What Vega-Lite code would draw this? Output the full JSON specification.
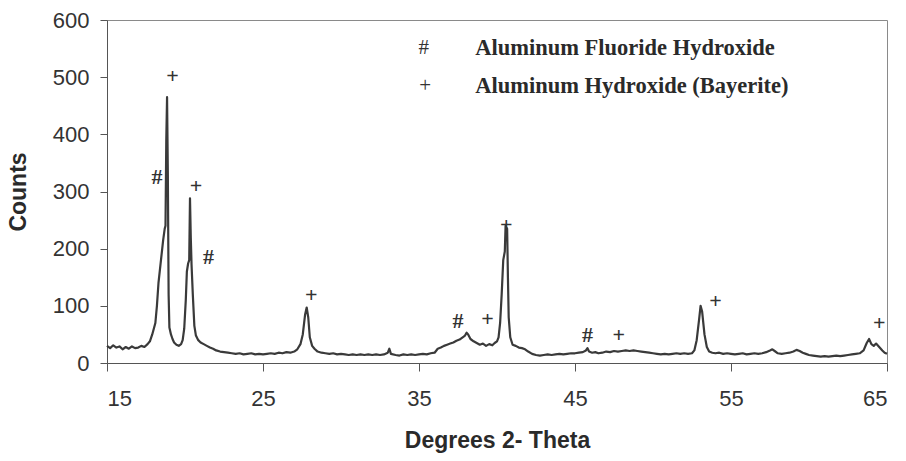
{
  "$schema": "https://vega.github.io/schema/vega-lite/v6.json",
  "autosize": "none",
  "width": 780,
  "height": 343,
  "padding": {"left": 107, "top": 20, "right": 19, "bottom": 98},
  "background": "white",
  "config": {
    "view": {"stroke": "#8a8a8a", "strokeWidth": 1},
    "axis": {
      "labelFont": "Liberation Sans", "labelFontSize": 22, "labelColor": "#333333",
      "titleFont": "Liberation Sans", "titleFontSize": 23, "titleFontWeight": "bold", "titleColor": "#2a2a2a",
      "domainColor": "#555555", "tickColor": "#555555", "grid": false
    }
  },
  "datasets": {
    "xrd": [
      {"theta": 15.0, "counts": 30}, {"theta": 15.2, "counts": 26}, {"theta": 15.4, "counts": 31}, {"theta": 15.6, "counts": 27},
      {"theta": 15.8, "counts": 29}, {"theta": 16.0, "counts": 24}, {"theta": 16.2, "counts": 28}, {"theta": 16.4, "counts": 25},
      {"theta": 16.6, "counts": 29}, {"theta": 16.8, "counts": 26}, {"theta": 17.0, "counts": 27}, {"theta": 17.2, "counts": 30},
      {"theta": 17.4, "counts": 28}, {"theta": 17.6, "counts": 33}, {"theta": 17.75, "counts": 38}, {"theta": 17.9, "counts": 50},
      {"theta": 18.0, "counts": 60}, {"theta": 18.1, "counts": 70}, {"theta": 18.2, "counts": 100}, {"theta": 18.3, "counts": 140},
      {"theta": 18.4, "counts": 165}, {"theta": 18.5, "counts": 190}, {"theta": 18.6, "counts": 215}, {"theta": 18.7, "counts": 235},
      {"theta": 18.75, "counts": 240}, {"theta": 18.8, "counts": 390}, {"theta": 18.85, "counts": 465}, {"theta": 18.9, "counts": 330},
      {"theta": 18.95, "counts": 120}, {"theta": 19.0, "counts": 62}, {"theta": 19.1, "counts": 50}, {"theta": 19.2, "counts": 42},
      {"theta": 19.3, "counts": 36}, {"theta": 19.45, "counts": 32}, {"theta": 19.6, "counts": 30}, {"theta": 19.75, "counts": 33},
      {"theta": 19.85, "counts": 40}, {"theta": 19.95, "counts": 60}, {"theta": 20.05, "counts": 110}, {"theta": 20.12, "counts": 160},
      {"theta": 20.2, "counts": 174}, {"theta": 20.27, "counts": 180}, {"theta": 20.32, "counts": 288}, {"theta": 20.37, "counts": 220},
      {"theta": 20.42, "counts": 172}, {"theta": 20.5, "counts": 120}, {"theta": 20.6, "counts": 65}, {"theta": 20.7, "counts": 48},
      {"theta": 20.85, "counts": 40}, {"theta": 21.0, "counts": 36}, {"theta": 21.2, "counts": 33}, {"theta": 21.4, "counts": 30},
      {"theta": 21.6, "counts": 27}, {"theta": 21.8, "counts": 25}, {"theta": 22.0, "counts": 22}, {"theta": 22.25, "counts": 20},
      {"theta": 22.5, "counts": 19}, {"theta": 22.75, "counts": 18}, {"theta": 23.0, "counts": 17}, {"theta": 23.25, "counts": 16},
      {"theta": 23.5, "counts": 17}, {"theta": 23.75, "counts": 15}, {"theta": 24.0, "counts": 16}, {"theta": 24.25, "counts": 17},
      {"theta": 24.5, "counts": 15}, {"theta": 24.75, "counts": 16}, {"theta": 25.0, "counts": 15}, {"theta": 25.25, "counts": 16},
      {"theta": 25.5, "counts": 17}, {"theta": 25.75, "counts": 16}, {"theta": 26.0, "counts": 18}, {"theta": 26.25, "counts": 17},
      {"theta": 26.5, "counts": 19}, {"theta": 26.75, "counts": 18}, {"theta": 27.0, "counts": 20}, {"theta": 27.2, "counts": 24},
      {"theta": 27.4, "counts": 33}, {"theta": 27.55, "counts": 50}, {"theta": 27.7, "counts": 85}, {"theta": 27.8, "counts": 97},
      {"theta": 27.9, "counts": 80}, {"theta": 28.0, "counts": 45}, {"theta": 28.15, "counts": 30}, {"theta": 28.3, "counts": 25},
      {"theta": 28.5, "counts": 20}, {"theta": 28.75, "counts": 18}, {"theta": 29.0, "counts": 17}, {"theta": 29.25, "counts": 16},
      {"theta": 29.5, "counts": 17}, {"theta": 29.75, "counts": 15}, {"theta": 30.0, "counts": 16}, {"theta": 30.25, "counts": 15},
      {"theta": 30.5, "counts": 14}, {"theta": 30.75, "counts": 15}, {"theta": 31.0, "counts": 14}, {"theta": 31.25, "counts": 15},
      {"theta": 31.5, "counts": 14}, {"theta": 31.75, "counts": 15}, {"theta": 32.0, "counts": 14}, {"theta": 32.25, "counts": 15},
      {"theta": 32.5, "counts": 14}, {"theta": 32.75, "counts": 15}, {"theta": 33.0, "counts": 18}, {"theta": 33.1, "counts": 25},
      {"theta": 33.2, "counts": 16}, {"theta": 33.5, "counts": 14}, {"theta": 33.75, "counts": 13}, {"theta": 34.0, "counts": 15},
      {"theta": 34.25, "counts": 14}, {"theta": 34.5, "counts": 15}, {"theta": 34.75, "counts": 14}, {"theta": 35.0, "counts": 15},
      {"theta": 35.25, "counts": 16}, {"theta": 35.5, "counts": 15}, {"theta": 35.75, "counts": 17}, {"theta": 36.0, "counts": 18},
      {"theta": 36.2, "counts": 25}, {"theta": 36.4, "counts": 27}, {"theta": 36.6, "counts": 30}, {"theta": 36.8, "counts": 32},
      {"theta": 37.0, "counts": 34}, {"theta": 37.2, "counts": 36}, {"theta": 37.4, "counts": 39}, {"theta": 37.6, "counts": 41},
      {"theta": 37.8, "counts": 45}, {"theta": 37.95, "counts": 48}, {"theta": 38.05, "counts": 53}, {"theta": 38.15, "counts": 50},
      {"theta": 38.3, "counts": 42}, {"theta": 38.5, "counts": 38}, {"theta": 38.7, "counts": 35}, {"theta": 38.9, "counts": 32},
      {"theta": 39.1, "counts": 34}, {"theta": 39.3, "counts": 30}, {"theta": 39.5, "counts": 33}, {"theta": 39.7, "counts": 31},
      {"theta": 39.85, "counts": 35}, {"theta": 40.0, "counts": 38}, {"theta": 40.1, "counts": 45}, {"theta": 40.2, "counts": 70},
      {"theta": 40.3, "counts": 120}, {"theta": 40.4, "counts": 180}, {"theta": 40.5, "counts": 195}, {"theta": 40.55, "counts": 240},
      {"theta": 40.65, "counts": 235}, {"theta": 40.7, "counts": 150}, {"theta": 40.75, "counts": 80}, {"theta": 40.85, "counts": 45},
      {"theta": 41.0, "counts": 32}, {"theta": 41.2, "counts": 30}, {"theta": 41.4, "counts": 27}, {"theta": 41.6, "counts": 26},
      {"theta": 41.8, "counts": 24}, {"theta": 42.0, "counts": 20}, {"theta": 42.25, "counts": 16}, {"theta": 42.5, "counts": 14},
      {"theta": 42.75, "counts": 13}, {"theta": 43.0, "counts": 14}, {"theta": 43.25, "counts": 15}, {"theta": 43.5, "counts": 14},
      {"theta": 43.75, "counts": 15}, {"theta": 44.0, "counts": 16}, {"theta": 44.25, "counts": 15}, {"theta": 44.5, "counts": 16},
      {"theta": 44.75, "counts": 17}, {"theta": 45.0, "counts": 17}, {"theta": 45.25, "counts": 18}, {"theta": 45.5, "counts": 19},
      {"theta": 45.7, "counts": 22}, {"theta": 45.8, "counts": 26}, {"theta": 45.9, "counts": 20}, {"theta": 46.1, "counts": 18},
      {"theta": 46.3, "counts": 19}, {"theta": 46.5, "counts": 17}, {"theta": 46.75, "counts": 18}, {"theta": 47.0, "counts": 20},
      {"theta": 47.25, "counts": 19}, {"theta": 47.5, "counts": 21}, {"theta": 47.75, "counts": 20}, {"theta": 48.0, "counts": 21},
      {"theta": 48.25, "counts": 22}, {"theta": 48.5, "counts": 21}, {"theta": 48.75, "counts": 22}, {"theta": 49.0, "counts": 21},
      {"theta": 49.25, "counts": 20}, {"theta": 49.5, "counts": 19}, {"theta": 49.75, "counts": 18}, {"theta": 50.0, "counts": 17},
      {"theta": 50.25, "counts": 16}, {"theta": 50.5, "counts": 15}, {"theta": 50.75, "counts": 16}, {"theta": 51.0, "counts": 15},
      {"theta": 51.25, "counts": 16}, {"theta": 51.5, "counts": 17}, {"theta": 51.75, "counts": 16}, {"theta": 52.0, "counts": 17},
      {"theta": 52.25, "counts": 16}, {"theta": 52.5, "counts": 17}, {"theta": 52.65, "counts": 22}, {"theta": 52.8, "counts": 40},
      {"theta": 52.95, "counts": 75}, {"theta": 53.05, "counts": 100}, {"theta": 53.15, "counts": 90}, {"theta": 53.3, "counts": 50},
      {"theta": 53.45, "counts": 28}, {"theta": 53.6, "counts": 20}, {"theta": 53.8, "counts": 18}, {"theta": 54.0, "counts": 17},
      {"theta": 54.25, "counts": 18}, {"theta": 54.5, "counts": 16}, {"theta": 54.75, "counts": 17}, {"theta": 55.0, "counts": 16},
      {"theta": 55.25, "counts": 15}, {"theta": 55.5, "counts": 16}, {"theta": 55.75, "counts": 17}, {"theta": 56.0, "counts": 15},
      {"theta": 56.25, "counts": 16}, {"theta": 56.5, "counts": 17}, {"theta": 56.75, "counts": 16}, {"theta": 57.0, "counts": 17},
      {"theta": 57.25, "counts": 19}, {"theta": 57.5, "counts": 22}, {"theta": 57.65, "counts": 24}, {"theta": 57.8, "counts": 21},
      {"theta": 58.0, "counts": 17}, {"theta": 58.25, "counts": 16}, {"theta": 58.5, "counts": 17}, {"theta": 58.75, "counts": 18},
      {"theta": 59.0, "counts": 20}, {"theta": 59.2, "counts": 23}, {"theta": 59.4, "counts": 21}, {"theta": 59.6, "counts": 18},
      {"theta": 59.8, "counts": 16}, {"theta": 60.0, "counts": 14}, {"theta": 60.25, "counts": 13}, {"theta": 60.5, "counts": 12},
      {"theta": 60.75, "counts": 11}, {"theta": 61.0, "counts": 12}, {"theta": 61.25, "counts": 11}, {"theta": 61.5, "counts": 12},
      {"theta": 61.75, "counts": 13}, {"theta": 62.0, "counts": 12}, {"theta": 62.25, "counts": 13}, {"theta": 62.5, "counts": 14},
      {"theta": 62.75, "counts": 15}, {"theta": 63.0, "counts": 16}, {"theta": 63.25, "counts": 17}, {"theta": 63.5, "counts": 22},
      {"theta": 63.7, "counts": 35}, {"theta": 63.85, "counts": 42}, {"theta": 64.0, "counts": 33}, {"theta": 64.15, "counts": 30},
      {"theta": 64.3, "counts": 34}, {"theta": 64.5, "counts": 28}, {"theta": 64.7, "counts": 22}, {"theta": 64.85, "counts": 18},
      {"theta": 65.0, "counts": 16}
    ],
    "marks": [
      {"theta": 19.2, "counts": 502, "sym": "+"},
      {"theta": 18.2, "counts": 325, "sym": "#"},
      {"theta": 20.7, "counts": 309, "sym": "+"},
      {"theta": 21.5, "counts": 186, "sym": "#"},
      {"theta": 28.1, "counts": 119, "sym": "+"},
      {"theta": 37.5, "counts": 74, "sym": "#"},
      {"theta": 39.4, "counts": 77, "sym": "+"},
      {"theta": 40.6, "counts": 242, "sym": "+"},
      {"theta": 45.8, "counts": 49, "sym": "#"},
      {"theta": 47.8, "counts": 49, "sym": "+"},
      {"theta": 54.0, "counts": 109, "sym": "+"},
      {"theta": 64.5, "counts": 70, "sym": "+"}
    ],
    "legend": [
      {"theta": 35.3, "tx": 38.6, "counts": 551, "sym": "#", "label": "Aluminum Fluoride Hydroxide"},
      {"theta": 35.4, "tx": 38.6, "counts": 484, "sym": "+", "label": "Aluminum Hydroxide (Bayerite)"}
    ]
  },
  "layer": [
    {
      "data": {"name": "xrd"},
      "mark": {"type": "line", "color": "#3a3a3a", "strokeWidth": 2.2, "strokeJoin": "round"},
      "encoding": {
        "x": {"field": "theta", "type": "quantitative", "scale": {"domain": [15, 65], "nice": false},
          "axis": {"title": "Degrees 2- Theta", "values": [15, 25, 35, 45, 55, 65], "titlePadding": 20, "labelPadding": 17, "tickSize": 8}},
        "y": {"field": "counts", "type": "quantitative", "scale": {"domain": [0, 600], "nice": false},
          "axis": {"title": "Counts", "values": [0, 100, 200, 300, 400, 500, 600], "titlePadding": 22, "labelPadding": 11, "tickSize": 7}}
      }
    },
    {
      "data": {"name": "marks"},
      "mark": {"type": "text", "font": "Liberation Serif", "fontSize": 22, "fontWeight": "bold", "color": "#333333", "baseline": "middle", "align": "center"},
      "encoding": {
        "x": {"field": "theta", "type": "quantitative"},
        "y": {"field": "counts", "type": "quantitative"},
        "text": {"field": "sym"}
      }
    },
    {
      "data": {"name": "legend"},
      "mark": {"type": "text", "font": "Liberation Serif", "fontSize": 21, "color": "#333333", "baseline": "middle", "align": "center"},
      "encoding": {
        "x": {"field": "theta", "type": "quantitative"},
        "y": {"field": "counts", "type": "quantitative"},
        "text": {"field": "sym"}
      }
    },
    {
      "data": {"name": "legend"},
      "mark": {"type": "text", "font": "Liberation Serif", "fontSize": 22.5, "fontWeight": "bold", "color": "#2a2a2a", "baseline": "middle", "align": "left"},
      "encoding": {
        "x": {"field": "tx", "type": "quantitative"},
        "y": {"field": "counts", "type": "quantitative"},
        "text": {"field": "label"}
      }
    }
  ]
}
